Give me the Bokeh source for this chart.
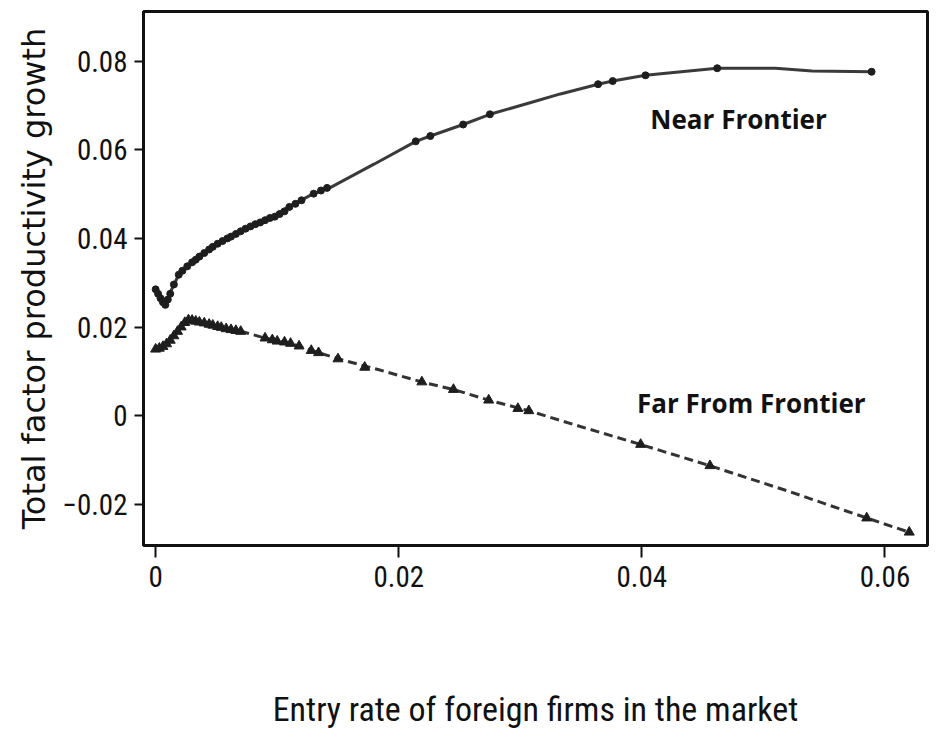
from bokeh.plotting import figure
from bokeh.models import FixedTicker, Range1d, Label
from bokeh.embed import file_html
from bokeh.resources import INLINE

# ---- data ----
near_x = [0.0, 0.0007, 0.0019, 0.0033, 0.0047, 0.0066, 0.0082, 0.0096, 0.0109, 0.0129,
          0.0144, 0.0180, 0.0214, 0.0226, 0.0253, 0.0275, 0.0308, 0.0333, 0.0364, 0.0376,
          0.0403, 0.0462, 0.0510, 0.0540, 0.0589]
near_y = [0.0285, 0.0250, 0.0318, 0.0352, 0.0381, 0.0410, 0.0432, 0.0450, 0.0470, 0.0500,
          0.0515, 0.0568, 0.0619, 0.0631, 0.0657, 0.0680, 0.0706, 0.0726, 0.0748, 0.0755,
          0.0768, 0.0784, 0.0784, 0.0778, 0.0776]
near_mx = [0.0, 0.0002, 0.0004, 0.0006, 0.0008, 0.0010, 0.0012, 0.0015, 0.0019, 0.0022,
           0.0026, 0.0030, 0.0033, 0.0036, 0.0040, 0.0044, 0.0047, 0.0051, 0.0055, 0.0059,
           0.0062, 0.0066, 0.0070, 0.0074, 0.0078, 0.0082, 0.0086, 0.0090, 0.0094, 0.0098,
           0.0102, 0.0106, 0.0110, 0.0115, 0.0120, 0.0130, 0.0136, 0.0141,
           0.0214, 0.0226, 0.0253, 0.0275, 0.0364, 0.0376, 0.0403, 0.0462, 0.0589]
near_my = [0.0285, 0.0275, 0.0265, 0.0256, 0.0250, 0.0262, 0.0275, 0.0296, 0.0318, 0.0327,
           0.0337, 0.0346, 0.0352, 0.0359, 0.0367, 0.0375, 0.0381, 0.0388, 0.0394, 0.0400,
           0.0404, 0.0410, 0.0416, 0.0422, 0.0427, 0.0432, 0.0436, 0.0441, 0.0446, 0.0449,
           0.0455, 0.0461, 0.0471, 0.0478, 0.0486, 0.0501, 0.0508, 0.0514,
           0.0619, 0.0631, 0.0657, 0.0680, 0.0748, 0.0755, 0.0768, 0.0784, 0.0776]

far_x = [0.0, 0.0008, 0.0018, 0.0026, 0.0035, 0.0047, 0.0068, 0.0090, 0.0111, 0.0134,
         0.0156, 0.0183, 0.0219, 0.0245, 0.0274, 0.0307, 0.0350, 0.0399, 0.0456, 0.0520,
         0.0585, 0.0620]
far_y = [0.0150, 0.0160, 0.0190, 0.0216, 0.0212, 0.0204, 0.0192, 0.0175, 0.0163, 0.0142,
         0.0124, 0.0104, 0.0076, 0.0059, 0.0035, 0.0011, -0.0025, -0.0065, -0.0113, -0.0170,
         -0.0231, -0.0263]
far_mx = [0.0, 0.0003, 0.0006, 0.0009, 0.0012, 0.0015, 0.0018, 0.0021, 0.0024, 0.0027,
          0.0030, 0.0033, 0.0036, 0.0040, 0.0044, 0.0047, 0.0051, 0.0054, 0.0058, 0.0062,
          0.0066, 0.0070, 0.0090, 0.0096, 0.0100, 0.0106, 0.0111, 0.0118, 0.0128,
          0.0134, 0.0150, 0.0172, 0.0219, 0.0245, 0.0274, 0.0298, 0.0307, 0.0399, 0.0456,
          0.0585, 0.0620]
far_my = [0.0150, 0.0152, 0.0156, 0.0162, 0.0170, 0.0180, 0.0190, 0.0200, 0.0210, 0.0216,
          0.0215, 0.0213, 0.0211, 0.0209, 0.0206, 0.0204, 0.0201, 0.0199, 0.0196, 0.0194,
          0.0192, 0.0190, 0.0175, 0.0171, 0.0168, 0.0166, 0.0163, 0.0157, 0.0147,
          0.0142, 0.0128, 0.0109, 0.0076, 0.0059, 0.0035, 0.0016, 0.0011, -0.0065, -0.0113,
          -0.0231, -0.0263]

x_ticks = [0, 0.02, 0.04, 0.06]
x_tick_labels = ["0", "0.02", "0.04", "0.06"]
y_ticks = [-0.02, 0, 0.02, 0.04, 0.06, 0.08]
y_tick_labels = ["\u22120.02", "0", "0.02", "0.04", "0.06", "0.08"]

near_label = "Near Frontier"
far_label = "Far From Frontier"
x_title = "Entry rate of foreign firms in the market"
y_title = "Total factor productivity growth"

# ---- figure ----
p = figure(width=930, height=733, output_backend="svg", toolbar_location=None,
           x_range=Range1d(-0.001, 0.0635), y_range=Range1d(-0.0293, 0.0912),
           min_border_left=143, min_border_right=3, min_border_top=11, min_border_bottom=188)
p.grid.visible = False
p.background_fill_color = "white"
p.border_fill_color = "white"
p.outline_line_color = "#111111"
p.outline_line_width = 3
p.outline_line_alpha = 1

ink = "#1e1e1e"
p.line(near_x, near_y, line_color="#3a3a3a", line_width=3)
p.scatter(near_mx, near_my, marker="circle", size=7, fill_color=ink, line_color=ink)
p.line(far_x, far_y, line_color="#333333", line_width=3, line_dash="9 5")
p.scatter(far_mx, far_my, marker="triangle", size=10, fill_color=ink, line_color=ink)

p.add_layout(Label(x=0.0407, y=0.0670, text=near_label, text_font="Open Sans", text_font_style="bold",
                   text_font_size="26px", text_baseline="middle", text_align="left",
                   text_color="#111111"))
p.add_layout(Label(x=0.0396, y=0.0029, text=far_label, text_font="Open Sans", text_font_style="bold",
                   text_font_size="26px", text_baseline="middle", text_align="left",
                   text_color="#111111"))

tick_font = "Liberation Sans Narrow, Roboto Condensed, Liberation Sans"
for ax in (p.xaxis[0], p.yaxis[0]):
    ax.axis_line_color = None
    ax.major_tick_in = 0
    ax.minor_tick_line_color = None
    ax.major_tick_line_color = "#111111"
    ax.major_tick_line_width = 2
    ax.major_label_text_font = tick_font
    ax.major_label_text_font_size = "29px"
    ax.major_label_text_color = "#111111"
    ax.axis_label_text_font_style = "normal"
    ax.axis_label_text_color = "#111111"

p.xaxis.ticker = FixedTicker(ticks=x_ticks)
p.xaxis.major_label_overrides = {t: l for t, l in zip(x_ticks, x_tick_labels)}
p.yaxis.ticker = FixedTicker(ticks=y_ticks)
p.yaxis.major_label_overrides = {t: l for t, l in zip(y_ticks, y_tick_labels)}

p.xaxis.major_tick_out = 12
p.xaxis.major_label_standoff = 8
p.xaxis.axis_label = x_title
p.xaxis.axis_label_text_font = tick_font
p.xaxis.axis_label_text_font_size = "34px"
p.xaxis.axis_label_standoff = 99

p.yaxis.major_tick_out = 9
p.yaxis.major_label_standoff = 7
p.yaxis.axis_label = y_title
p.yaxis.axis_label_text_font = "DejaVu Sans"
p.yaxis.axis_label_text_font_size = "32px"
p.yaxis.axis_label_standoff = 6

open("out.html", "w").write(file_html(p, INLINE))
